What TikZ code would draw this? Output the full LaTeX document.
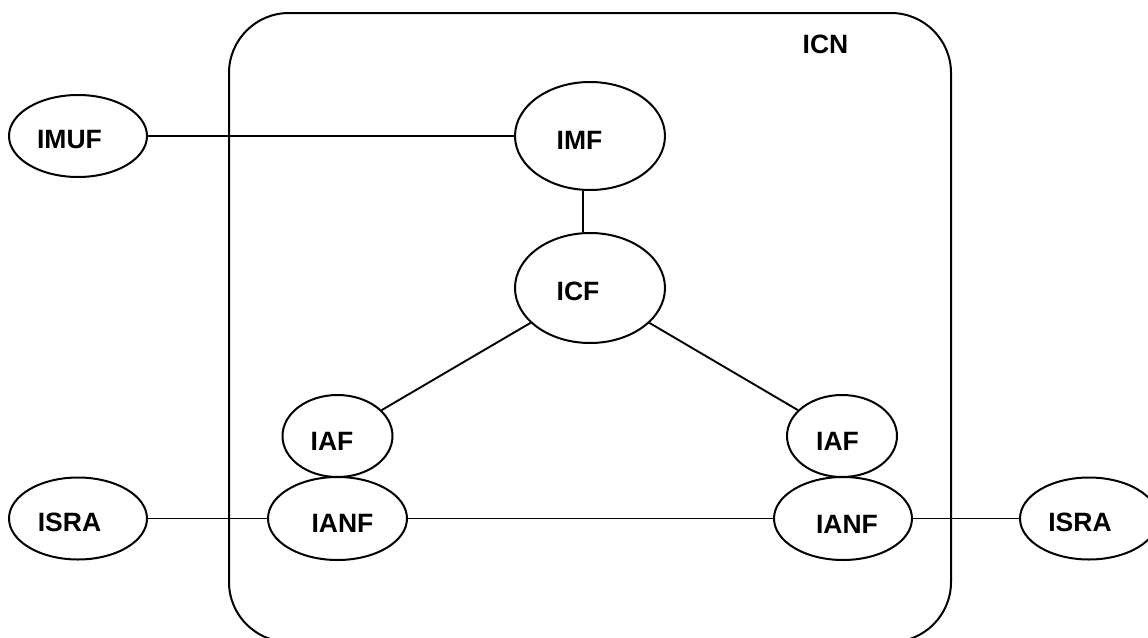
\documentclass[tikz,border=0pt]{standalone}
\usepackage{fontspec}
\setmainfont{Liberation Sans}
\usetikzlibrary{shapes.geometric}
\tikzset{
  ell/.style={draw, ellipse, line width=2pt, inner sep=0pt},
  lbl/.style={inner sep=0pt, font=\fontsize{26.5}{26.5}\selectfont\bfseries},
  conn/.style={line width=1.9pt},
}
\begin{document}
\begin{tikzpicture}[x=1pt, y=-1pt]
\useasboundingbox (0,0) rectangle (1148,637);
\clip (0,0) rectangle (1148,637);
\fill[white] (0,0) rectangle (1148,637);
% container
\draw[line width=2pt, rounded corners=60pt] (229,13) rectangle (951,642);
\node[lbl] (ICN) at (825.5,44.5) {ICN};
% ellipses
\node[ell, minimum width=138pt, minimum height=82pt] (IMUF) at (78,136) {};
\node[ell, minimum width=150pt, minimum height=108pt] (IMF) at (590,136) {};
\node[ell, minimum width=150pt, minimum height=110pt] (ICF) at (590,288) {};
\node[ell, minimum width=110pt, minimum height=82pt] (IAFL) at (337.5,436) {};
\node[ell, minimum width=139pt, minimum height=83pt] (IANFL) at (337.5,518.5) {};
\node[ell, minimum width=110pt, minimum height=82pt] (IAFR) at (842,436) {};
\node[ell, minimum width=138pt, minimum height=83pt] (IANFR) at (843,518.5) {};
\node[ell, minimum width=138pt, minimum height=82pt] (ISRAL) at (78,518.5) {};
\node[ell, minimum width=138pt, minimum height=82pt] (ISRAR) at (1089,518.5) {};
% labels
\node[lbl] (IMUFt) at (69.5,139.5) {IMUF};
\node[lbl] (IMFt) at (579.5,140) {IMF};
\node[lbl] (ICFt) at (578,291) {ICF};
\node[lbl] (IAFLt) at (332,441) {IAF};
\node[lbl] (IANFLt) at (342.5,523.5) {IANF};
\node[lbl] (IAFRt) at (837.5,441) {IAF};
\node[lbl] (IANFRt) at (847,524) {IANF};
\node[lbl] (ISRALt) at (69.5,522) {ISRA};
\node[lbl] (ISRARt) at (1080,522) {ISRA};
% connectors
\draw[conn] (IMUF.east) -- (IMF.west);
\draw[conn] ([xshift=-7pt]IMF.south) -- ([xshift=-7pt]ICF.north);
\draw[conn] (ICF) -- (IAFL);
\draw[conn] (ICF) -- (IAFR);
\draw[conn] (ISRAL.east) -- (IANFL.west);
\draw[conn] (IANFL.east) -- (IANFR.west);
\draw[conn] (IANFR.east) -- (ISRAR.west);
\end{tikzpicture}
\end{document}
